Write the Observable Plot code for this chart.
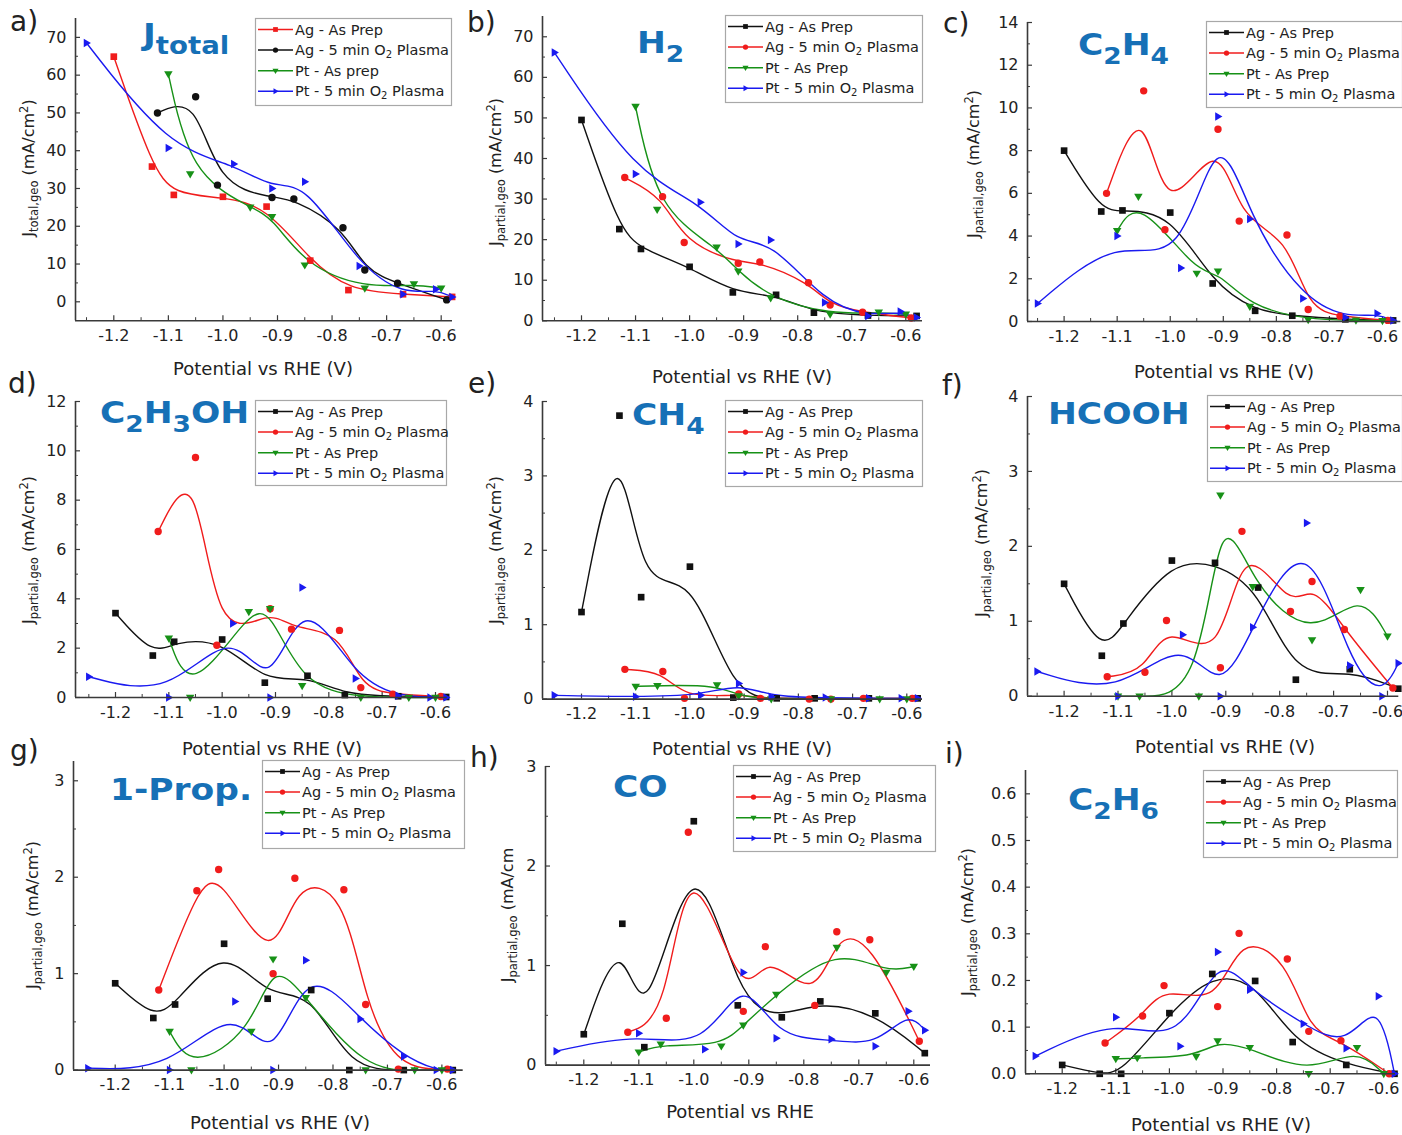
<!DOCTYPE html>
<html><head><meta charset="utf-8">
<script src="https://cdn.jsdelivr.net/npm/d3@7"></script>
<script src="https://cdn.jsdelivr.net/npm/@observablehq/plot@0.6"></script>
<style>
body{margin:0;background:#fff;}
#wrap{position:relative;width:1402px;height:1135px;overflow:hidden;background:#fff;}
#overlay{position:absolute;left:0;top:0;pointer-events:none;}
</style></head><body><div id="wrap"></div>
<script>
// ---------- data ----------
const potAgPrep   = [-1.20,-1.13,-1.09,-1.00,-0.92,-0.84,-0.77,-0.67,-0.58];
const potAgPlasma = [-1.12,-1.05,-1.01,-0.91,-0.87,-0.78,-0.74,-0.68,-0.59];
const potPtPrep   = [-1.10,-1.06,-0.95,-0.91,-0.85,-0.74,-0.65,-0.60];
const potPtPlasma = [-1.25,-1.10,-0.98,-0.91,-0.85,-0.75,-0.67,-0.61,-0.58];

const jTotal  = {agPrep:[64.9,35.8,28.3,27.8,25.2,10.9,3.1,2.0,1.3], agPlasma:[50.0,54.3,30.9,27.6,27.2,19.6,8.4,4.9,0.5], ptPrep:[60.3,33.8,25.0,22.5,9.7,3.6,4.7,3.6], ptPlasma:[68.5,40.7,36.5,30.0,31.8,9.5,2.0,3.3,1.3]};
const jH2     = {agPrep:[49.5,22.6,17.7,13.3,7.0,6.4,2.0,1.3,1.2], agPlasma:[35.3,30.6,19.3,14.2,14.5,9.4,3.9,2.1,0.7], ptPrep:[52.8,27.4,18.1,12.2,5.6,1.6,2.1,1.6], ptPlasma:[66.1,36.2,29.2,18.9,19.9,4.5,1.2,2.3,0.8]};
const jC2H4   = {agPrep:[8.0,5.15,5.2,5.1,1.78,0.5,0.27,0.1,0.05], agPlasma:[6.0,10.8,4.3,9.0,4.7,4.05,0.56,0.25,0.05], ptPrep:[4.25,5.85,2.25,2.35,0.7,0.08,0.06,0.03], ptPlasma:[0.84,4.0,2.5,9.6,4.8,1.08,0.19,0.37,0.05]};
const jC2H3OH = {agPrep:[3.42,1.7,2.26,2.35,0.6,0.88,0.1,0.05,0.02], agPlasma:[6.73,9.73,2.12,3.6,2.77,2.72,0.4,0.13,0.04], ptPrep:[2.4,0,3.47,3.6,0.47,0,0,0], ptPlasma:[0.84,0,3.0,0,4.46,0.77,0.07,0,0]};
const jCH4    = {agPrep:[1.17,3.81,1.37,1.78,0.02,0.01,0.01,0.01,0.01], agPlasma:[0.40,0.37,0.01,0.07,0.01,0,0,0.01,0.01], ptPrep:[0.17,0.18,0.19,0.04,0,0,0,0], ptPlasma:[0.05,0.03,0.05,0.21,0.03,0.02,0.01,0.01,0.01]};
const jHCOOH  = {agPrep:[1.5,0.54,0.97,1.81,1.78,1.45,0.22,0.36,0.1], agPlasma:[0.26,0.32,1.01,0.38,2.2,1.13,1.53,0.89,0.11], ptPrep:[0,0,0,2.68,1.46,0.75,1.42,0.8], ptPlasma:[0.33,0,0.82,0,0.92,2.31,0.41,0,0.44]};
const jProp   = {agPrep:[0.9,0.54,0.68,1.31,0.74,0.83,0,0,0], agPlasma:[0.83,1.86,2.08,1.0,1.99,1.87,0.68,0.01,0.01], ptPrep:[0.4,0,0.4,1.15,0.75,0,0,0], ptPlasma:[0.02,0,0.71,0,1.14,0.53,0.14,0,0]};
const jCO     = {agPrep:[0.31,1.42,0.18,2.45,0.6,0.48,0.64,0.52,0.12], agPlasma:[0.33,0.47,2.34,0.54,1.19,0.6,1.34,1.26,0.24], ptPrep:[0.13,0.21,0.19,0.4,0.71,1.18,0.93,0.99], ptPlasma:[0.14,0.32,0.16,0.93,0.27,0.26,0.19,0.54,0.35]};
const jC2H6   = {agPrep:[0.019,0,0,0.13,0.214,0.199,0.068,0.019,0], agPlasma:[0.066,0.124,0.189,0.144,0.301,0.246,0.091,0.071,0], ptPrep:[0.032,0.034,0.037,0.07,0.056,0,0.056,0], ptPlasma:[0.038,0.121,0.059,0.261,0.18,0.107,0.055,0.166,0]};

const xTicks = [-1.2,-1.1,-1.0,-0.9,-0.8,-0.7,-0.6];
const xMinor = [-1.25,-1.15,-1.05,-0.95,-0.85,-0.75,-0.65];
const ticksA = [0,10,20,30,40,50,60,70], minorA = [5,15,25,35,45,55,65];
const ticksC = [0,2,4,6,8,10,12,14], minorC = [1,3,5,7,9,11,13];
const ticksD = [0,2,4,6,8,10,12], minorD = [1,3,5,7,9,11];
const ticks4 = [0,1,2,3,4], minor4 = [0.5,1.5,2.5,3.5];
const ticks3 = [0,1,2,3], minor3 = [0.5,1.5,2.5];
const ticksI = [0,0.1,0.2,0.3,0.4,0.5,0.6], minorI = [0.05,0.15,0.25,0.35,0.45,0.55];

// ---------- styling ----------
const BLACK="#111", RED="#f01c1c", GREEN="#179117", BLUE="#1a1af0";
const axisColor="#3a3a3a", titleColor="#1670b6";
const symTriDown={draw(ctx,size){const r=Math.sqrt(size/Math.PI);ctx.moveTo(-r*1.15,-r*0.75);ctx.lineTo(r*1.15,-r*0.75);ctx.lineTo(0,r*1.2);ctx.closePath();}};
const symTriRight={draw(ctx,size){const r=Math.sqrt(size/Math.PI);ctx.moveTo(-r*0.75,-r*1.15);ctx.lineTo(r*1.2,0);ctx.lineTo(-r*0.75,r*1.15);ctx.closePath();}};
const symSquare={draw(ctx,size){const r=Math.sqrt(size/Math.PI)*0.9;ctx.rect(-r,-r,2*r,2*r);}};
const symCircle={draw(ctx,size){const r=Math.sqrt(size/Math.PI);ctx.moveTo(r,0);ctx.arc(0,0,r,0,2*Math.PI);}};

const seriesDefs=[
  {key:"agPrep",  x:potAgPrep,  sym:symSquare,   color:BLACK, label:[["Ag - As Prep",0]]},
  {key:"agPlasma",x:potAgPlasma,sym:symCircle,   color:RED,   label:[["Ag - 5 min O",0],["2",1],[" Plasma",0]]},
  {key:"ptPrep",  x:potPtPrep,  sym:symTriDown,  color:GREEN, label:[["Pt - As Prep",0]]},
  {key:"ptPlasma",x:potPtPlasma,sym:symTriRight, color:BLUE,  label:[["Pt - 5 min O",0],["2",1],[" Plasma",0]]}
];

const fmtInt=d=>d.toFixed(0), fmt1=d=>d.toFixed(1);
const panels=[
 {id:"a", data:jTotal,  yDomain:[-5,75], yTicks:ticksA, yMinor:minorA, fmt:fmtInt, frame:{left:75,right:452,top:17.8,bottom:320}, p12:113.3,p06:440.7, swap:true,
  letter:[10,31], title:[["J",0],["total",1]], titlePos:[143,45], ylab:[28,168], ysub:"total,geo", ytail:" (mA/cm", ysup:true, xlab:[263,375,"Potential vs RHE (V)"], legend:[255,18,196,87]},
 {id:"b", data:jH2,     yDomain:[0,75], yTicks:ticksA, yMinor:minorA, fmt:fmtInt, frame:{left:541.7,right:921.7,top:15.7,bottom:320}, p12:580.7,p06:905,
  letter:[467,32], title:[["H",0],["2",1]], titlePos:[637,53], ylab:[495,172], ysub:"partial,geo", ytail:" (mA/cm", ysup:true, xlab:[742,383,"Potential vs RHE (V)"], legend:[725,15,197,87]},
 {id:"c", data:jC2H4,   yDomain:[0,14], yTicks:ticksC, yMinor:minorC, fmt:fmtInt, frame:{left:1026.7,right:1400,top:21.7,bottom:320.7}, p12:1063.3,p06:1381.7,
  letter:[943,33], title:[["C",0],["2",1],["H",0],["4",1]], titlePos:[1078,55], ylab:[973,164], ysub:"partial,geo", ytail:" (mA/cm", ysup:true, xlab:[1224,378,"Potential vs RHE (V)"], legend:[1206,21,196,86]},
 {id:"d", data:jC2H3OH, yDomain:[0,12], yTicks:ticksD, yMinor:minorD, fmt:fmtInt, frame:{left:75,right:446.7,top:400.7,bottom:696.7}, p12:115,p06:435,
  letter:[8,393], title:[["C",0],["2",1],["H",0],["3",1],["OH",0]], titlePos:[100,423], ylab:[28,550], ysub:"partial,geo", ytail:" (mA/cm", ysup:true, xlab:[272,755,"Potential vs RHE (V)"], legend:[255,400,191,85]},
 {id:"e", data:jCH4,    yDomain:[0,4], yTicks:ticks4, yMinor:minor4, fmt:fmtInt, frame:{left:541.7,right:921.7,top:400.7,bottom:698.3}, p12:580.7,p06:906,
  letter:[468,393], title:[["CH",0],["4",1]], titlePos:[632,425], ylab:[495,550], ysub:"partial,geo", ytail:" (mA/cm", ysup:true, xlab:[742,755,"Potential vs RHE (V)"], legend:[725,400,197,86]},
 {id:"f", data:jHCOOH,  yDomain:[0,4], yTicks:ticks4, yMinor:minor4, fmt:fmtInt, frame:{left:1026.7,right:1398,top:396,bottom:695.7}, p12:1063.3,p06:1386.7,
  letter:[942,395], title:[["HCOOH",0]], titlePos:[1048,424], ylab:[981,543], ysub:"partial,geo", ytail:" (mA/cm", ysup:true, xlab:[1225,753,"Potential vs RHE (V)"], legend:[1207,395,195,86]},
 {id:"g", data:jProp,   yDomain:[0,3.2], yTicks:ticks3, yMinor:minor3, fmt:fmtInt, frame:{left:73.3,right:463,top:760.7,bottom:1069.3}, p12:115,p06:441.7,
  letter:[10,760], title:[["1-Prop.",0]], titlePos:[110,800], ylab:[32,915], ysub:"partial,geo", ytail:" (mA/cm", ysup:true, xlab:[280,1129,"Potential vs RHE (V)"], legend:[262,760,202,88]},
 {id:"h", data:jCO,     yDomain:[0,3], yTicks:ticks3, yMinor:minor3, fmt:fmtInt, frame:{left:545,right:930,top:765.7,bottom:1064.3}, p12:583.3,p06:913.3,
  letter:[470,767], title:[["CO",0]], titlePos:[613,797], ylab:[507,915], ysub:"partial,geo", ytail:" (mA/cm", ysup:false, xlab:[740,1118,"Potential vs RHE"], legend:[733,765,202,86]},
 {id:"i", data:jC2H6,   yDomain:[0,0.65], yTicks:ticksI, yMinor:minorI, fmt:fmt1, frame:{left:1025,right:1395,top:770,bottom:1073.3}, p12:1061.7,p06:1383.3,
  letter:[945,763], title:[["C",0],["2",1],["H",0],["6",1]], titlePos:[1068,810], ylab:[967,922], ysub:"partial,geo", ytail:" (mA/cm", ysup:true, xlab:[1221,1131,"Potential vs RHE (V)"], legend:[1203,770,194,87]}
];

const wrap=document.getElementById("wrap");

function seriesColor(p,s){
  if(p.swap){ if(s.key==="agPrep") return RED; if(s.key==="agPlasma") return BLACK; }
  return s.color;
}

function makePanel(p){
  const mL=50,mR=12,mT=10,mB=40;
  const f=p.frame;
  const pxPerV=(p.p06-p.p12)/0.6;
  const xmin=-1.2+(f.left-p.p12)/pxPerV, xmax=-1.2+(f.right-p.p12)/pxPerV;
  const [ymin,ymax]=p.yDomain;
  const kx=(xmax-xmin)/(f.right-f.left), ky=(ymax-ymin)/(f.bottom-f.top);
  const marks=[];
  marks.push(Plot.ruleX(xTicks,{x:d=>d,y1:ymin,y2:ymin+5*ky,stroke:axisColor,strokeWidth:1.2}));
  marks.push(Plot.ruleX(xMinor,{x:d=>d,y1:ymin,y2:ymin+3*ky,stroke:axisColor,strokeWidth:1}));
  marks.push(Plot.ruleY(p.yTicks,{y:d=>d,x1:xmin,x2:xmin+5*kx,stroke:axisColor,strokeWidth:1.2}));
  marks.push(Plot.ruleY(p.yMinor,{y:d=>d,x1:xmin,x2:xmin+3*kx,stroke:axisColor,strokeWidth:1}));
  for(const s of seriesDefs){
    const rows=s.x.map((x,i)=>({x,y:p.data[s.key][i]}));
    marks.push(Plot.line(rows,{x:"x",y:"y",curve:"basis",stroke:seriesColor(p,s),strokeWidth:1.4}));
  }
  for(const s of seriesDefs){
    const rows=s.x.map((x,i)=>({x,y:p.data[s.key][i]}));
    marks.push(Plot.dot(rows,{x:"x",y:"y",symbol:s.sym,r:3.7,fill:seriesColor(p,s),stroke:"none"}));
  }
  marks.push(Plot.ruleY([ymin],{x1:xmin,x2:xmax,stroke:axisColor,strokeWidth:1.6}));
  marks.push(Plot.ruleX([xmin],{y1:ymin,y2:ymax,stroke:axisColor,strokeWidth:1.6}));
  marks.push(Plot.axisX(xTicks,{tickSize:0,tickPadding:9,tickFormat:fmt1,label:null}));
  marks.push(Plot.axisY(p.yTicks,{tickSize:0,tickPadding:9,tickFormat:p.fmt,label:null}));
  const svg=Plot.plot({
    width:f.right-f.left+mL+mR, height:f.bottom-f.top+mT+mB,
    marginLeft:mL, marginRight:mR, marginTop:mT, marginBottom:mB,
    x:{domain:[xmin,xmax]}, y:{domain:[ymin,ymax]},
    style:{fontFamily:"'DejaVu Sans', sans-serif", fontSize:"16px", color:"#222", background:"transparent", overflow:"visible"},
    marks
  });
  svg.style.position="absolute";
  svg.style.left=(f.left-mL)+"px";
  svg.style.top=(f.top-mT)+"px";
  wrap.appendChild(svg);
}
panels.forEach(makePanel);

// ---------- overlay texts & legends ----------
const ov=d3.select(wrap).append("svg").attr("id","overlay").attr("width",1402).attr("height",1135)
  .style("font-family","'DejaVu Sans', sans-serif");

function addSegs(textSel,segs,subSize,subDy){
  let prev=0;
  for(const [t,sub] of segs){
    const ts=textSel.append("tspan").text(t);
    if(sub===1){ ts.attr("font-size",subSize); if(prev!==1) ts.attr("dy",subDy); }
    else if(sub===2){ ts.attr("font-size",subSize); ts.attr("dy",-subDy*1.6); }
    else { if(prev===1) ts.attr("dy",-subDy); if(prev===2) ts.attr("dy",subDy*1.6); }
    prev=sub;
  }
}

for(const p of panels){
  // panel letter
  ov.append("text").attr("x",p.letter[0]).attr("y",p.letter[1]).attr("font-size",28).attr("fill","#222").text(p.id+")");
  // title
  const tt=ov.append("text").attr("transform",`translate(${p.titlePos[0]},${p.titlePos[1]}) scale(1.15,1)`)
    .attr("font-size",30).attr("font-weight","bold").attr("fill",titleColor);
  addSegs(tt,p.title,p.id==="a"?"24px":"23px",9);
  // x label
  ov.append("text").attr("x",p.xlab[0]).attr("y",p.xlab[1]).attr("text-anchor","middle").attr("font-size",18).attr("fill","#222").text(p.xlab[2]);
  // y label
  const yl=ov.append("text").attr("transform",`translate(${p.ylab[0]+6},${p.ylab[1]}) rotate(-90)`).attr("text-anchor","middle").attr("font-size",16).attr("fill","#222");
  const segs=[["J",0],[p.ysub,1],[p.ytail,0]];
  if(p.ysup){ segs.push(["2",2]); segs.push([")",0]); }
  addSegs(yl,segs,"11.5px",4);
  // legend
  const [lx,ly,lw,lh]=p.legend;
  ov.append("rect").attr("x",lx+0.5).attr("y",ly+0.5).attr("width",lw).attr("height",lh).attr("fill","none").attr("stroke","#a8a8a8").attr("stroke-width",1.2);
  seriesDefs.forEach((s,i)=>{
    const cy=ly+11.5+i*20.6;
    const col=seriesColor(p,s);
    ov.append("line").attr("x1",lx+3).attr("x2",lx+38).attr("y1",cy).attr("y2",cy).attr("stroke",col).attr("stroke-width",1.5);
    ov.append("path").attr("transform",`translate(${lx+20.5},${cy})`).attr("d",d3.symbol(s.sym,22)()).attr("fill",col);
    const t=ov.append("text").attr("x",lx+40).attr("y",cy+5).attr("font-size",14.5).attr("fill","#222");
    let lab=s.label;
    if(p.id==="a" && s.key==="ptPrep") lab=[["Pt - As prep",0]];
    addSegs(t,lab,"10px",3);
  });
}
</script></body></html>
